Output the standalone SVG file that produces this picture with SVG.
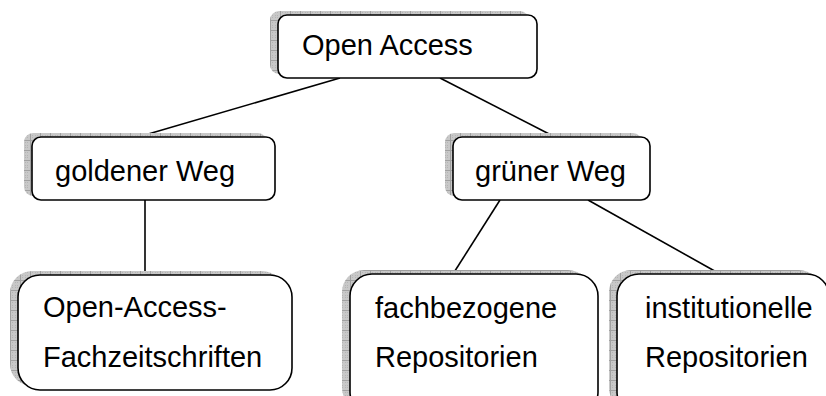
<svg xmlns="http://www.w3.org/2000/svg" width="826" height="396" viewBox="0 0 826 396">
  <defs>
    <!-- fine hatch with a coarse grid, used for the drop shadows -->
    <pattern id="hatch" width="10" height="10" patternUnits="userSpaceOnUse">
      <rect width="10" height="10" fill="#c8c8c8"/>
      <path d="M0,0.5 H10 M0.5,0 V10" stroke="#a0a0a0" stroke-width="1"/>
      <path d="M2,2h1v1h-1z M5,5h1v1h-1z M7,2h1v1h-1z M2,7h1v1h-1z M7,7h1v1h-1z M5,2h1v1h-1z M2,5h1v1h-1z M7,5h1v1h-1z M5,7h1v1h-1z" fill="#b4b4b4"/>
    </pattern>
  </defs>
  <style>
    .shadow { fill: url(#hatch); }
    .box { fill: #ffffff; stroke: #000000; stroke-width: 1.6; }
    .label { font-family: "Liberation Sans", Arial, sans-serif; font-size: 29px; fill: #000000; }
    .link { stroke: #000000; stroke-width: 1.6; fill: none; }
  </style>

  <rect width="826" height="396" fill="#ffffff"/>

  <g id="connectors">
    <line class="link" x1="340" y1="78" x2="138" y2="137"/>
    <line class="link" x1="440" y1="78" x2="555" y2="137"/>
    <line class="link" x1="145" y1="200" x2="145" y2="275"/>
    <line class="link" x1="500" y1="200" x2="453" y2="274"/>
    <line class="link" x1="588" y1="200" x2="720" y2="274"/>
  </g>

  <g id="open-access">
    <rect class="shadow" x="270" y="11" width="259" height="63" rx="9"/>
    <rect class="box" x="278" y="15" width="259" height="63" rx="9"/>
    <text class="label" x="302" y="55">Open Access</text>
  </g>

  <g id="goldener-weg">
    <rect class="shadow" x="24" y="133" width="243" height="63" rx="9"/>
    <rect class="box" x="32" y="137" width="243" height="63" rx="9"/>
    <text class="label" x="55" y="181">goldener Weg</text>
  </g>

  <g id="gruener-weg">
    <rect class="shadow" x="445" y="133" width="197" height="63" rx="9"/>
    <rect class="box" x="453" y="137" width="197" height="63" rx="9"/>
    <text class="label" x="475" y="181">grüner Weg</text>
  </g>

  <g id="fachzeitschriften">
    <rect class="shadow" x="10" y="271" width="274" height="115" rx="22"/>
    <rect class="box" x="18" y="275" width="274" height="115" rx="22"/>
    <text class="label" x="43" y="317">Open-Access-</text>
    <text class="label" x="43" y="367">Fachzeitschriften</text>
  </g>

  <g id="fachbezogene">
    <rect class="shadow" x="342" y="270" width="248" height="140" rx="22"/>
    <rect class="box" x="350" y="274" width="248" height="140" rx="22"/>
    <text class="label" x="375" y="318">fachbezogene</text>
    <text class="label" x="375" y="367">Repositorien</text>
  </g>

  <g id="institutionelle">
    <rect class="shadow" x="609" y="270" width="212" height="140" rx="22"/>
    <rect class="box" x="617" y="274" width="212" height="140" rx="22"/>
    <text class="label" x="645" y="318">institutionelle</text>
    <text class="label" x="645" y="367">Repositorien</text>
  </g>
</svg>
